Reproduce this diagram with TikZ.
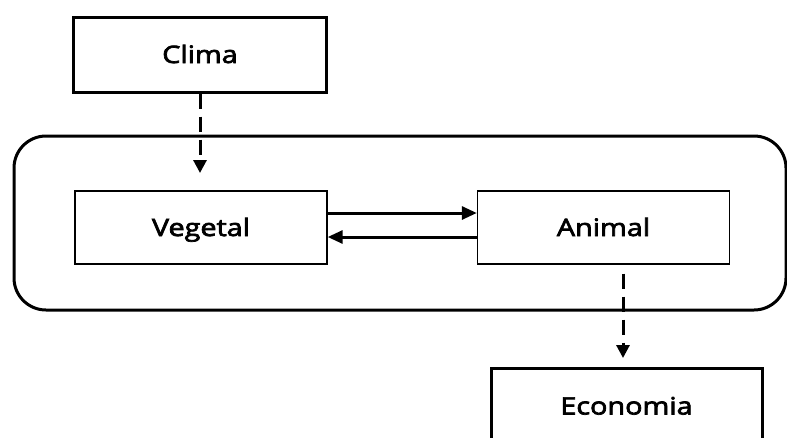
\documentclass[tikz,border=0pt]{standalone}
\usepackage{fontspec}
\setmainfont{Open Sans}[FakeStretch=1.2]
\newfontfamily\lblfont{Open Sans}[FakeStretch=1.2,FakeBold=3]
\usetikzlibrary{arrows.meta}
\begin{document}
\begin{tikzpicture}[x=1pt,y=-1pt,
  thickbox/.style={draw, line width=3pt, minimum width=253pt, minimum height=75pt, inner sep=0pt, text height=17pt, text depth=0pt, font=\fontsize{24}{28}\lblfont},
  thinbox/.style={draw, line width=1.4pt, minimum width=252pt, minimum height=73pt, inner sep=0pt, text height=17pt, text depth=0pt, font=\fontsize{24}{28}\lblfont},
  dasharrow/.style={line width=3pt, dash pattern=on 15pt off 8pt, -{Triangle[length=13pt,width=13pt]}},
  solidarrow/.style={line width=3pt, -{Triangle[length=15pt,width=13pt]}}]
\useasboundingbox (0,0) rectangle (787,437);
\draw[line width=3pt, rounded corners=32pt] (14,136) rectangle (786,310);
\node[thickbox] (clima) at (200,54.5) {Clima};
\node[thinbox] (veg) at (201,227.5) {Vegetal};
\node[thinbox] (ani) at (603.5,227.5) {Animal};
\node[thickbox, minimum width=271pt, minimum height=76pt] (eco) at (626.5,406) {Economia};
\coordinate (t1) at (200,173);
\coordinate (t2) at (623,358);
\draw[dasharrow] (clima.south) -- (t1);
\draw[dasharrow] ([yshift=-9pt]ani.south -| t2) -- (t2);
\draw[solidarrow] ([yshift=14.5pt]veg.east) -- ([yshift=14.5pt]ani.west);
\draw[solidarrow] ([yshift=-9.5pt]ani.west) -- ([yshift=-9.5pt]veg.east);
\end{tikzpicture}
\end{document}
